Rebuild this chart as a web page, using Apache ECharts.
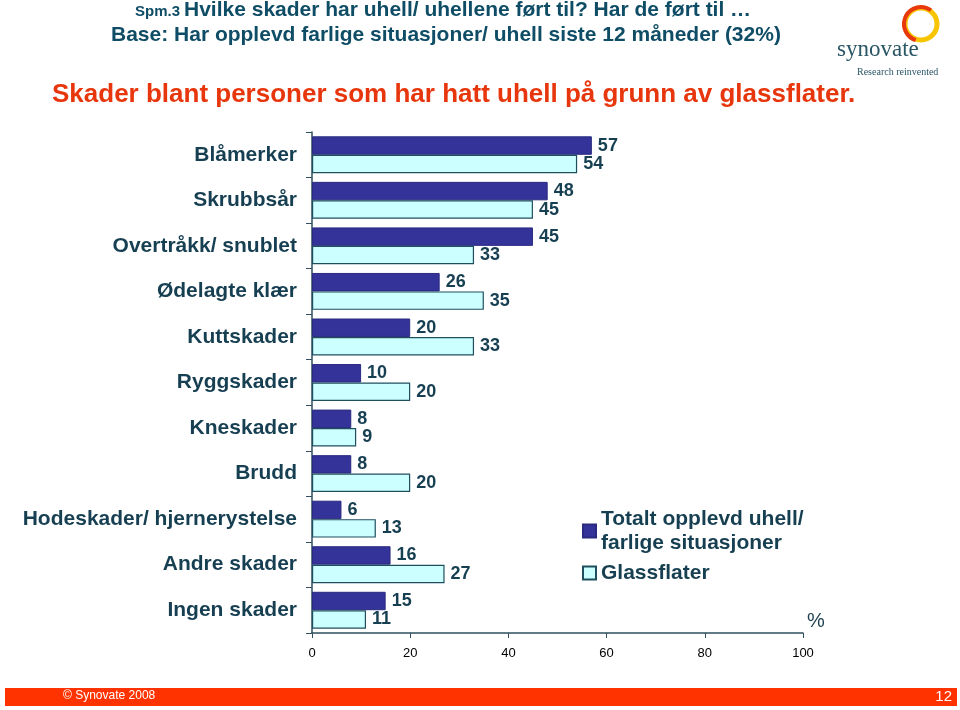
<!DOCTYPE html>
<html>
<head>
<meta charset="utf-8">
<script src="https://cdn.jsdelivr.net/npm/echarts@6/dist/echarts.min.js"></script>
<style>
html,body{margin:0;padding:0;background:#fff;}
#c{width:960px;height:710px;}
</style>
</head>
<body>
<div id="c"></div>
<script>
var categories = ['Blåmerker','Skrubbsår','Overtråkk/ snublet','Ødelagte klær','Kuttskader','Ryggskader','Kneskader','Brudd','Hodeskader/ hjernerystelse','Andre skader','Ingen skader'];
var totalt = [57,48,45,26,20,10,8,8,6,16,15];
var glass = [54,45,33,35,33,20,9,20,13,27,11];
var xTicks = [0,20,40,60,80,100];
var seriesNames = ['Totalt opplevd uhell/ farlige situasjoner','Glassflater'];

var teal = '#173f52';
var chart = echarts.init(document.getElementById('c'), null, {renderer:'canvas'});
var option = {
  backgroundColor:'#ffffff',
  animation:false,
  textStyle:{fontFamily:'Liberation Sans, Arial, sans-serif'},
  grid:{left:312,right:157,top:132,bottom:77,containLabel:false},
  xAxis:{
    type:'value',min:0,max:100,interval:20,
    axisLine:{show:true,lineStyle:{color:'#2f4f5f',width:1.5}},
    axisTick:{show:true,length:5,lineStyle:{color:'#2f4f5f'}},
    splitLine:{show:false},
    axisLabel:{color:'#000',fontSize:13,margin:14,formatter:function(v){return xTicks.indexOf(v)>=0?String(v):'';}}
  },
  yAxis:{
    type:'category',data:categories,inverse:true,
    axisLine:{show:true,lineStyle:{color:'#2f4f5f',width:1.5}},
    axisTick:{show:true,length:6,inside:false,lineStyle:{color:'#2f4f5f'}},
    axisLabel:{color:teal,fontSize:21,fontWeight:'bold',margin:15}
  },
  legend:{
    orient:'vertical',left:577,top:502,itemWidth:13,itemHeight:13,itemGap:6,icon:'rect',
    textStyle:{color:teal,fontSize:21,fontWeight:'bold',lineHeight:24},
    formatter:function(n){return n===seriesNames[0]?'Totalt opplevd uhell/\nfarlige situasjoner':n;},
    data:seriesNames
  },
  series:[
    {name:seriesNames[0],type:'bar',data:totalt,barGap:'0%',barCategoryGap:'19%',
     itemStyle:{color:'#333399',borderColor:'#2a2a80',borderWidth:1},
     label:{show:true,position:'right',distance:6,color:teal,fontSize:18,fontWeight:'bold'}},
    {name:seriesNames[1],type:'bar',data:glass,barGap:'0%',barCategoryGap:'19%',
     itemStyle:{color:'#ccffff',borderColor:'#1f4f5f',borderWidth:1.2},
     label:{show:true,position:'right',distance:6,color:teal,fontSize:18,fontWeight:'bold'}}
  ],
  graphic:[
    {type:'text',left:135,top:4,style:{text:'Spm.3',fill:'#0f4d66',font:'bold 15px Liberation Sans, Arial'}},
    {type:'text',left:184,top:0,style:{text:'Hvilke skader har uhell/ uhellene ført til? Har de ført til …',fill:'#0f4d66',font:'bold 21px Liberation Sans, Arial'}},
    {type:'text',left:111,top:25,style:{text:'Base: Har opplevd farlige situasjoner/ uhell siste 12 måneder (32%)',fill:'#0f4d66',font:'bold 21px Liberation Sans, Arial'}},
    {type:'text',left:52,top:82,style:{text:'Skader blant personer som har hatt uhell på grunn av glassflater.',fill:'#e8360c',font:'bold 26px Liberation Sans, Arial'}},
    {type:'text',left:807,top:611,style:{text:'%',fill:'#1b3f4e',font:'20px Liberation Sans, Arial'}},
    {type:'rect',shape:{x:5,y:688,width:952,height:18},style:{fill:'#ff3300'}},
    {type:'text',left:63,top:690,style:{text:'© Synovate 2008',fill:'#fff',font:'12px Liberation Sans, Arial'}},
    {type:'text',right:8,top:689,style:{text:'12',fill:'#fff',font:'15px Liberation Sans, Arial'}},
    {type:'circle',shape:{cx:921,cy:24,r:16},style:{fill:'none',stroke:'#f7c400',lineWidth:5}},
    {type:'arc',shape:{cx:921,cy:24,r:17,startAngle:Math.PI*0.6,endAngle:Math.PI*1.7},style:{fill:'none',stroke:'#e8380d',lineWidth:4}},
    {type:'text',left:837,top:38,style:{text:'synovate',fill:'#2a5565',font:'23px Liberation Serif, serif'}},
    {type:'text',left:857,top:67,style:{text:'Research reinvented',fill:'#2a5565',font:'10px Liberation Serif, serif'}}
  ]
};
chart.setOption(option);
</script>
</body>
</html>
